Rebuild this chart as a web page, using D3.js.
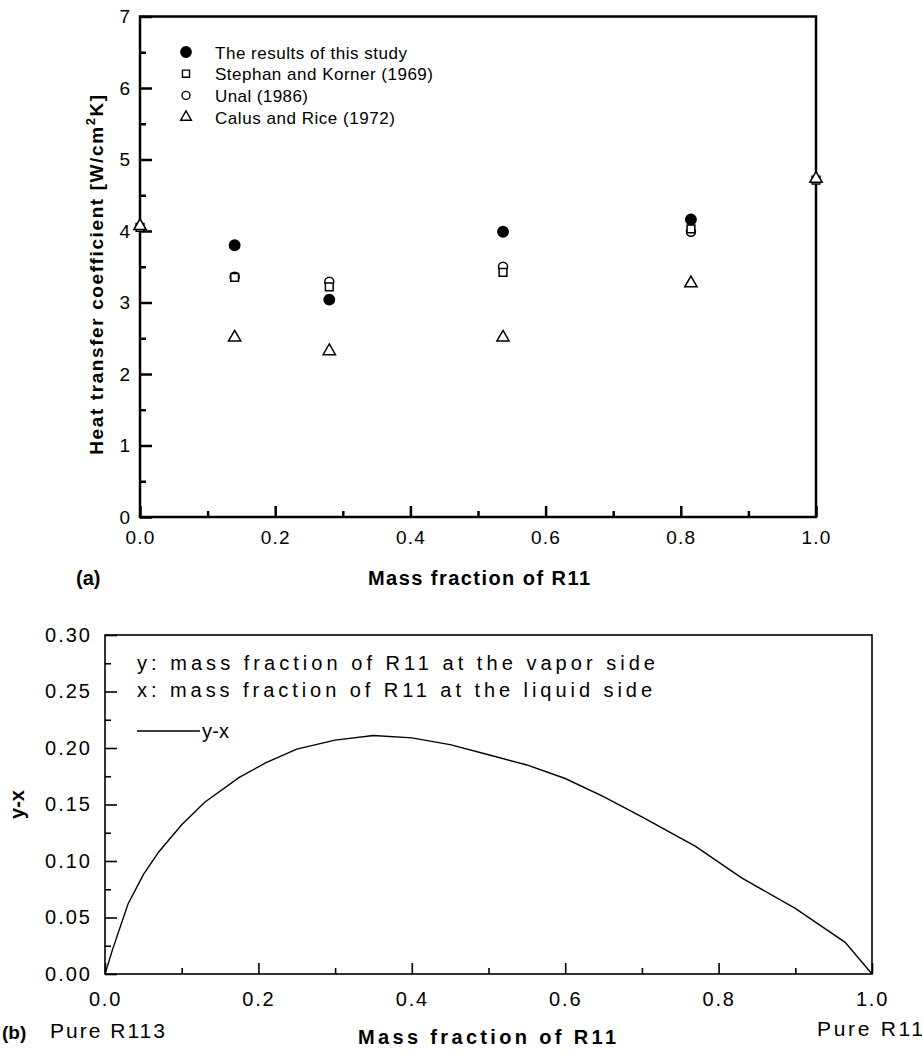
<!DOCTYPE html>
<html lang="en">
<head>
<meta charset="UTF-8">
<title>Heat transfer coefficient and y-x vs mass fraction of R11</title>
<script src="https://cdn.jsdelivr.net/npm/d3@7"></script>
<style>
    body { margin: 0; background: #fff; }
    svg text { font-family: "Liberation Sans", Arial, sans-serif; fill: #000; }
    .frame { fill: none; stroke: #000; }
    .axis path { display: none; }
    .axis line { stroke: #000; }
    .bold { font-weight: bold; }
</style>
</head>
<body>
<svg id="chart" width="922" height="1054"></svg>
<script>
// ---- panel (a): heat transfer coefficient ----
const studyX = [0.14, 0.28, 0.537, 0.815];
const studyH = [3.80, 3.04, 3.99, 4.16];
const stephanX = [0, 0.14, 0.28, 0.537, 0.815, 1];
const stephanH = [4.05, 3.35, 3.22, 3.42, 4.03, 4.71];
const unalX = [0.14, 0.28, 0.537, 0.815];
const unalH = [3.36, 3.29, 3.50, 3.99];
const calusX = [0, 0.14, 0.28, 0.537, 0.815, 1];
const calusH = [4.07, 2.51, 2.32, 2.51, 3.27, 4.73];
const legendA = ["The results of this study", "Stephan and Korner (1969)", "Unal (1986)", "Calus and Rice (1972)"];

// ---- panel (b): y-x ----
const fracX = [0, 0.01, 0.03, 0.05, 0.07, 0.1, 0.13, 0.175, 0.21, 0.25, 0.3, 0.35, 0.4, 0.45,
               0.5, 0.55, 0.6, 0.65, 0.7, 0.77, 0.83, 0.9, 0.965, 1.0];
const yMinusX = [0, 0.022, 0.062, 0.088, 0.108, 0.132, 0.152, 0.174, 0.187, 0.199, 0.207, 0.211, 0.209, 0.203,
                 0.194, 0.185, 0.173, 0.157, 0.139, 0.113, 0.085, 0.058, 0.028, 0];
const legendB = ["y: mass fraction of R11 at the vapor side", "x: mass fraction of R11 at the liquid side"];

const svg = d3.select("#chart");
const FONT = "Liberation Sans, Arial, sans-serif";

// panel (a) scales
const xa = d3.scaleLinear().domain([0, 1]).range([140, 816]);
const ya = d3.scaleLinear().domain([0, 7]).range([517, 16.5]);

const ga = svg.append("g");
ga.append("rect").attr("class", "frame")
    .attr("x", xa(0)).attr("y", ya(7))
    .attr("width", xa(1) - xa(0)).attr("height", ya(0) - ya(7))
    .attr("stroke-width", 2.5);

// ticks (inside), majors with labels, minors without
ga.append("g").attr("class", "axis")
    .attr("transform", `translate(0,${ya(0)})`)
    .call(d3.axisBottom(xa).tickValues([0, 0.2, 0.4, 0.6, 0.8, 1]).tickSizeInner(-11).tickSizeOuter(0)
        .tickPadding(14).tickFormat(d3.format(".1f")))
    .call(g => g.selectAll("line").attr("stroke-width", 2.5))
    .call(g => g.selectAll("text").attr("font-size", 19).attr("letter-spacing", 1.2).attr("font-family", FONT));
ga.append("g").attr("class", "axis")
    .attr("transform", `translate(0,${ya(0)})`)
    .call(d3.axisBottom(xa).tickValues([0.1, 0.3, 0.5, 0.7, 0.9]).tickSizeInner(-6).tickSizeOuter(0).tickFormat(""))
    .call(g => g.selectAll("line").attr("stroke-width", 2.5));
ga.append("g").attr("class", "axis")
    .attr("transform", `translate(${xa(0)},0)`)
    .call(d3.axisLeft(ya).ticks(7).tickSizeInner(-12).tickSizeOuter(0).tickPadding(10).tickFormat(d3.format("d")))
    .call(g => g.selectAll("line").attr("stroke-width", 2.5))
    .call(g => g.selectAll("text").attr("font-size", 19).attr("font-family", FONT));
ga.append("g").attr("class", "axis")
    .attr("transform", `translate(${xa(0)},0)`)
    .call(d3.axisLeft(ya).tickValues(d3.range(0.5, 7, 1)).tickSizeInner(-6).tickSizeOuter(0).tickFormat(""))
    .call(g => g.selectAll("line").attr("stroke-width", 2.5));

// markers
const symFilled = d3.symbol(d3.symbolCircle, 85);
const symSquare = d3.symbol(d3.symbolSquare, 60);
const symCircle = d3.symbol(d3.symbolCircle, 64);
const symTri = d3.symbol(d3.symbolTriangle, 66);

function drawSeries(xs, vs, sym, filled) {
    ga.append("g").selectAll("path")
        .data(xs.map((x, i) => [x, vs[i]]))
        .join("path")
        .attr("transform", d => `translate(${xa(d[0])},${ya(d[1])})`)
        .attr("d", sym)
        .attr("fill", filled ? "#000" : "#fff")
        .attr("stroke", "#000")
        .attr("stroke-width", 1.5);
}
drawSeries(unalX, unalH, symCircle, false);
drawSeries(stephanX, stephanH, symSquare, false);
drawSeries(calusX, calusH, symTri, false);
drawSeries(studyX, studyH, symFilled, true);

// legend (a)
const legSyms = [[symFilled, true], [symSquare, false], [symCircle, false], [symTri, false]];
const legLen = [192, 218, 93, 180];
legendA.forEach((t, i) => {
    const yy = 52 + i * 21.7;
    ga.append("path").attr("transform", `translate(186,${yy})`)
        .attr("d", legSyms[i][0].size(i === 0 ? 85 : 50)())
        .attr("fill", legSyms[i][1] ? "#000" : "#fff").attr("stroke", "#000").attr("stroke-width", 1.4);
    ga.append("text").attr("x", 215).attr("y", yy + 6.5)
        .attr("font-size", 17).attr("textLength", legLen[i]).attr("lengthAdjust", "spacing").text(t);
});

// titles (a)
const yTitle = ga.append("text").attr("class", "bold")
    .attr("transform", `translate(103,274) rotate(-90)`)
    .attr("text-anchor", "middle").attr("font-size", 19).attr("letter-spacing", 1.6);
yTitle.append("tspan").text("Heat transfer coefficient [W/cm");
yTitle.append("tspan").attr("dy", -8).attr("font-size", 13).text("2");
yTitle.append("tspan").attr("dy", 8).text("K]");
ga.append("text").attr("class", "bold").attr("x", 368).attr("y", 585)
    .attr("font-size", 20).attr("textLength", 222).attr("lengthAdjust", "spacing").text("Mass fraction of R11");
ga.append("text").attr("class", "bold").attr("x", 76).attr("y", 585)
    .attr("font-size", 20).text("(a)");

// panel (b) scales
const xb = d3.scaleLinear().domain([0, 1]).range([105, 872]);
const yb = d3.scaleLinear().domain([0, 0.30]).range([974, 635]);

const gb = svg.append("g");
gb.append("rect").attr("class", "frame")
    .attr("x", xb(0)).attr("y", yb(0.30))
    .attr("width", xb(1) - xb(0)).attr("height", yb(0) - yb(0.30))
    .attr("stroke-width", 1.6);

gb.append("g").attr("class", "axis")
    .attr("transform", `translate(0,${yb(0)})`)
    .call(d3.axisBottom(xb).tickValues([0, 0.2, 0.4, 0.6, 0.8, 1]).tickSizeInner(-11).tickSizeOuter(0)
        .tickPadding(18).tickFormat(d3.format(".1f")))
    .call(g => g.selectAll("line").attr("stroke-width", 1.6))
    .call(g => g.selectAll("text").attr("font-size", 20).attr("letter-spacing", 1.8).attr("font-family", FONT));
gb.append("g").attr("class", "axis")
    .attr("transform", `translate(0,${yb(0)})`)
    .call(d3.axisBottom(xb).tickValues([0.1, 0.3, 0.5, 0.7, 0.9]).tickSizeInner(-6).tickSizeOuter(0).tickFormat(""))
    .call(g => g.selectAll("line").attr("stroke-width", 1.6));
gb.append("g").attr("class", "axis")
    .attr("transform", `translate(${xb(0)},0)`)
    .call(d3.axisLeft(yb).tickValues(d3.range(0, 0.301, 0.05)).tickSizeInner(-12).tickSizeOuter(0)
        .tickPadding(13).tickFormat(d3.format(".2f")))
    .call(g => g.selectAll("line").attr("stroke-width", 1.6))
    .call(g => g.selectAll("text").attr("font-size", 20).attr("letter-spacing", 2).attr("font-family", FONT));
gb.append("g").attr("class", "axis")
    .attr("transform", `translate(${xb(0)},0)`)
    .call(d3.axisLeft(yb).tickValues(d3.range(0.025, 0.3, 0.05)).tickSizeInner(-6).tickSizeOuter(0).tickFormat(""))
    .call(g => g.selectAll("line").attr("stroke-width", 1.6));

// curve
const line = d3.line().x((d, i) => xb(fracX[i])).y(d => yb(d));
gb.append("path").datum(yMinusX)
    .attr("d", line).attr("fill", "none").attr("stroke", "#000").attr("stroke-width", 1.4);

// legend (b)
const legLenB = [518, 515];
legendB.forEach((t, i) => {
    gb.append("text").attr("x", 137).attr("y", 670 + i * 27)
        .attr("font-size", 20).attr("textLength", legLenB[i]).attr("lengthAdjust", "spacing").text(t);
});
gb.append("line").attr("x1", 137).attr("x2", 200).attr("y1", 731).attr("y2", 731)
    .attr("stroke", "#000").attr("stroke-width", 1.4);
gb.append("text").attr("x", 202).attr("y", 738).attr("font-size", 20).attr("textLength", 27)
    .attr("lengthAdjust", "spacing").text("y-x");

// titles (b)
gb.append("text").attr("class", "bold")
    .attr("transform", `translate(24,${(yb(0) + yb(0.3)) / 2}) rotate(-90)`)
    .attr("text-anchor", "middle").attr("font-size", 20).text("y-x");
gb.append("text").attr("class", "bold").attr("x", 358).attr("y", 1044)
    .attr("font-size", 20).attr("textLength", 258).attr("lengthAdjust", "spacing").text("Mass fraction of R11");
gb.append("text").attr("class", "bold").attr("x", 2).attr("y", 1039)
    .attr("font-size", 19).text("(b)");
gb.append("text").attr("x", 50).attr("y", 1038)
    .attr("font-size", 21).attr("textLength", 115).attr("lengthAdjust", "spacing").text("Pure R113");
gb.append("text").attr("x", 817).attr("y", 1036)
    .attr("font-size", 21).attr("textLength", 106).attr("lengthAdjust", "spacing").text("Pure R11");
</script>
</body>
</html>
